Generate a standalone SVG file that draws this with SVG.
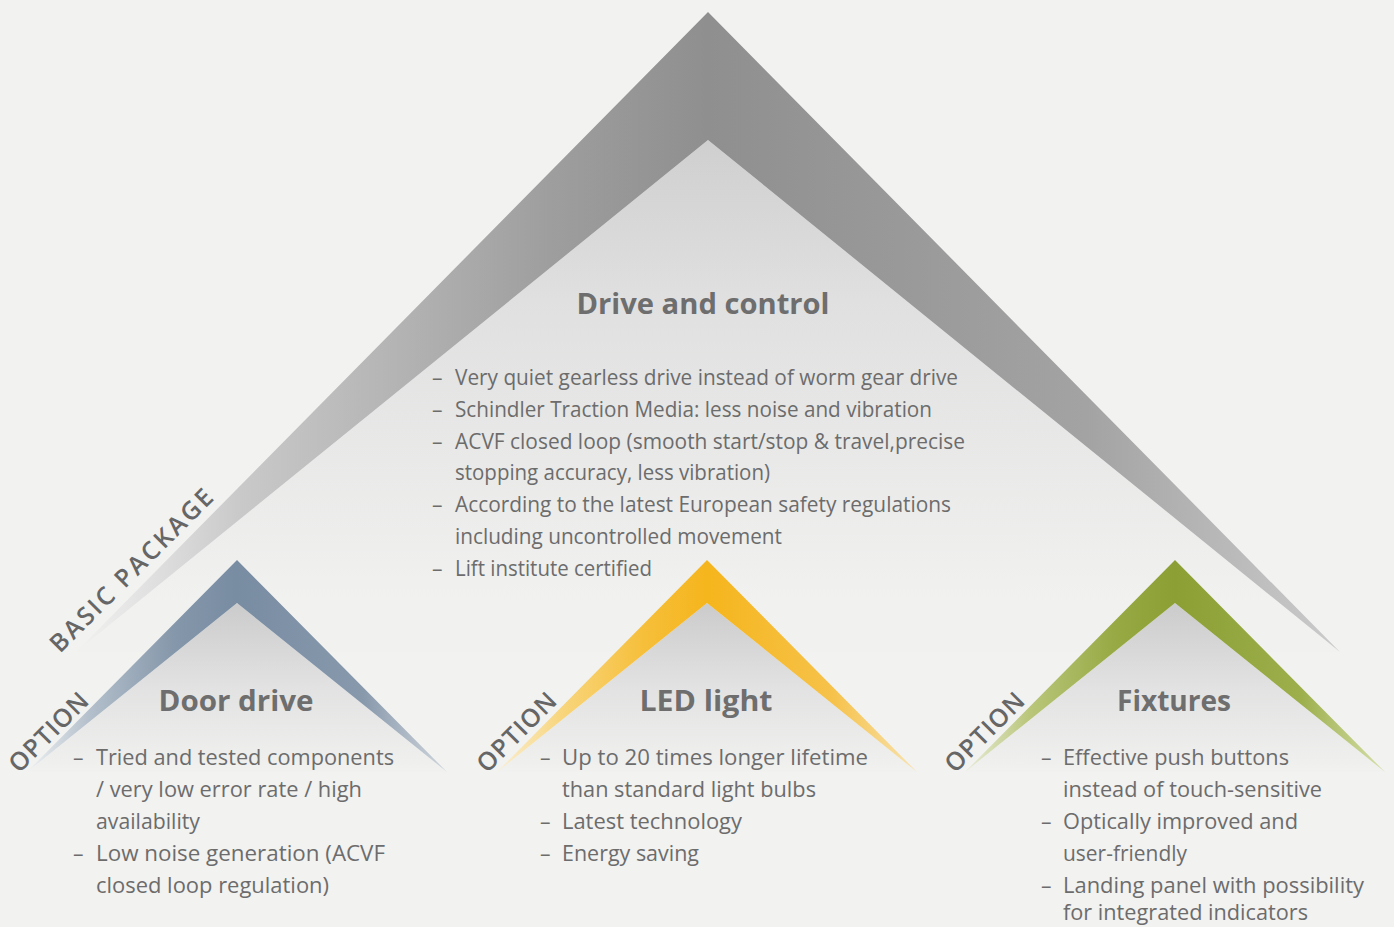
<svg xmlns="http://www.w3.org/2000/svg" width="1394" height="927" viewBox="0 0 1394 927">
<defs>
<style>
.h{font-family:"Open Sans","Noto Sans",sans-serif;font-weight:700;font-size:28px;fill:#6e6e6e;text-anchor:middle}
.b{font-family:"Open Sans","Noto Sans",sans-serif;font-weight:400;font-size:21px;fill:#6c6c6c}
.o{font-family:"Open Sans","Noto Sans",sans-serif;font-weight:600;font-size:25px;fill:#666666;letter-spacing:1px}
.bp{letter-spacing:2.5px}
</style>
<linearGradient id="gBig" gradientUnits="userSpaceOnUse" x1="76" y1="0" x2="1340" y2="0">
<stop offset="0" stop-color="#f2f2f1"/>
<stop offset="0.06" stop-color="#e0e0e0"/>
<stop offset="0.13" stop-color="#c9c9c9"/>
<stop offset="0.24" stop-color="#b6b6b6"/>
<stop offset="0.375" stop-color="#9e9e9e"/>
<stop offset="0.5" stop-color="#8f8f8f"/>
<stop offset="0.8" stop-color="#a3a3a3"/>
<stop offset="1" stop-color="#cbcbcb"/>
</linearGradient>
<linearGradient id="gBigIn" gradientUnits="userSpaceOnUse" x1="0" y1="140" x2="0" y2="600">
<stop offset="0" stop-color="#cfcfcf"/>
<stop offset="0.35" stop-color="#e0e0e0"/>
<stop offset="1" stop-color="#f1f1f0"/>
</linearGradient>
<linearGradient id="gSmIn" gradientUnits="userSpaceOnUse" x1="0" y1="603" x2="0" y2="772">
<stop offset="0" stop-color="#cbcbcb"/>
<stop offset="0.5" stop-color="#e2e2e2"/>
<stop offset="1" stop-color="#f1f1f0"/>
</linearGradient>
<linearGradient id="gDoor" gradientUnits="userSpaceOnUse" x1="27" y1="0" x2="447" y2="0">
<stop offset="0" stop-color="#eef0f2"/>
<stop offset="0.15" stop-color="#b3bfcb"/>
<stop offset="0.35" stop-color="#8597aa"/>
<stop offset="0.5" stop-color="#788ca2"/>
<stop offset="0.8" stop-color="#8899ac"/>
<stop offset="1" stop-color="#d0d6dd"/>
</linearGradient>
<linearGradient id="gLed" gradientUnits="userSpaceOnUse" x1="497" y1="0" x2="917" y2="0">
<stop offset="0" stop-color="#faefd4"/>
<stop offset="0.15" stop-color="#f8d67e"/>
<stop offset="0.35" stop-color="#f6bf3a"/>
<stop offset="0.5" stop-color="#f5b51c"/>
<stop offset="0.8" stop-color="#f6c24a"/>
<stop offset="1" stop-color="#f8e3b0"/>
</linearGradient>
<linearGradient id="gFix" gradientUnits="userSpaceOnUse" x1="965" y1="0" x2="1385" y2="0">
<stop offset="0" stop-color="#e8ecd8"/>
<stop offset="0.15" stop-color="#bac77c"/>
<stop offset="0.35" stop-color="#97aa45"/>
<stop offset="0.5" stop-color="#8b9f34"/>
<stop offset="0.8" stop-color="#9caf4c"/>
<stop offset="1" stop-color="#d6e0aa"/>
</linearGradient>
</defs>
<rect x="0" y="0" width="1394" height="927" fill="#f2f2f1"/>

<g id="drive-and-control">
<polygon points="708,140 1340,652 76,652" fill="url(#gBigIn)"/>
<polygon points="708,12 1340,652 708,140 76,652" fill="url(#gBig)"/>
<text class="o bp" transform="translate(60,654) rotate(-45)">BASIC PACKAGE</text>
<text class="h" x="703" y="314" textLength="253" lengthAdjust="spacingAndGlyphs">Drive and control</text>
<g class="b">
<text x="432" y="385">–</text><text x="455" y="385" textLength="503" lengthAdjust="spacingAndGlyphs">Very quiet gearless drive instead of worm gear drive</text>
<text x="432" y="417">–</text><text x="455" y="417" textLength="477" lengthAdjust="spacingAndGlyphs">Schindler Traction Media: less noise and vibration</text>
<text x="432" y="449">–</text><text x="455" y="449" textLength="510" lengthAdjust="spacingAndGlyphs">ACVF closed loop (smooth start/stop &amp; travel,precise</text>
<text x="455" y="480" textLength="315" lengthAdjust="spacingAndGlyphs">stopping accuracy, less vibration)</text>
<text x="432" y="512">–</text><text x="455" y="512" textLength="496" lengthAdjust="spacingAndGlyphs">According to the latest European safety regulations</text>
<text x="455" y="544" textLength="327" lengthAdjust="spacingAndGlyphs">including uncontrolled movement</text>
<text x="432" y="576">–</text><text x="455" y="576" textLength="197" lengthAdjust="spacingAndGlyphs">Lift institute certified</text>
</g>
</g>

<g id="door-drive">
<polygon points="237,603 447,772 27,772" fill="url(#gSmIn)"/>
<polygon points="237,560 447,772 237,603 27,772" fill="url(#gDoor)"/>
<text class="o" transform="translate(19,774) rotate(-45)">OPTION</text>
<text class="h" x="236" y="711" textLength="155" lengthAdjust="spacingAndGlyphs">Door drive</text>
<g class="b">
<text x="73" y="765">–</text><text x="96" y="765" textLength="298" lengthAdjust="spacingAndGlyphs">Tried and tested components</text>
<text x="96" y="797" textLength="266" lengthAdjust="spacingAndGlyphs">/ very low error rate / high</text>
<text x="96" y="829" textLength="104" lengthAdjust="spacingAndGlyphs">availability</text>
<text x="73" y="861">–</text><text x="96" y="861" textLength="289" lengthAdjust="spacingAndGlyphs">Low noise generation (ACVF</text>
<text x="96" y="893" textLength="233" lengthAdjust="spacingAndGlyphs">closed loop regulation)</text>
</g>
</g>

<g id="led-light">
<polygon points="707,603 917,772 497,772" fill="url(#gSmIn)"/>
<polygon points="707,560 917,772 707,603 497,772" fill="url(#gLed)"/>
<text class="o" transform="translate(487,774) rotate(-45)">OPTION</text>
<text class="h" x="706" y="711" textLength="133" lengthAdjust="spacingAndGlyphs">LED light</text>
<g class="b">
<text x="540" y="765">–</text><text x="562" y="765" textLength="306" lengthAdjust="spacingAndGlyphs">Up to 20 times longer lifetime</text>
<text x="562" y="797" textLength="254" lengthAdjust="spacingAndGlyphs">than standard light bulbs</text>
<text x="540" y="829">–</text><text x="562" y="829" textLength="180" lengthAdjust="spacingAndGlyphs">Latest technology</text>
<text x="540" y="861">–</text><text x="562" y="861" textLength="137" lengthAdjust="spacingAndGlyphs">Energy saving</text>
</g>
</g>

<g id="fixtures">
<polygon points="1175,603 1385,772 965,772" fill="url(#gSmIn)"/>
<polygon points="1175,560 1385,772 1175,603 965,772" fill="url(#gFix)"/>
<text class="o" transform="translate(955,774) rotate(-45)">OPTION</text>
<text class="h" x="1174" y="711" textLength="114" lengthAdjust="spacingAndGlyphs">Fixtures</text>
<g class="b">
<text x="1041" y="765">–</text><text x="1063" y="765" textLength="226" lengthAdjust="spacingAndGlyphs">Effective push buttons</text>
<text x="1063" y="797" textLength="259" lengthAdjust="spacingAndGlyphs">instead of touch-sensitive</text>
<text x="1041" y="829">–</text><text x="1063" y="829" textLength="235" lengthAdjust="spacingAndGlyphs">Optically improved and</text>
<text x="1063" y="861" textLength="124" lengthAdjust="spacingAndGlyphs">user-friendly</text>
<text x="1041" y="893">–</text><text x="1063" y="893" textLength="301" lengthAdjust="spacingAndGlyphs">Landing panel with possibility</text>
<text x="1063" y="920" textLength="245" lengthAdjust="spacingAndGlyphs">for integrated indicators</text>
</g>
</g>

<g id="connectors"/>
</svg>
